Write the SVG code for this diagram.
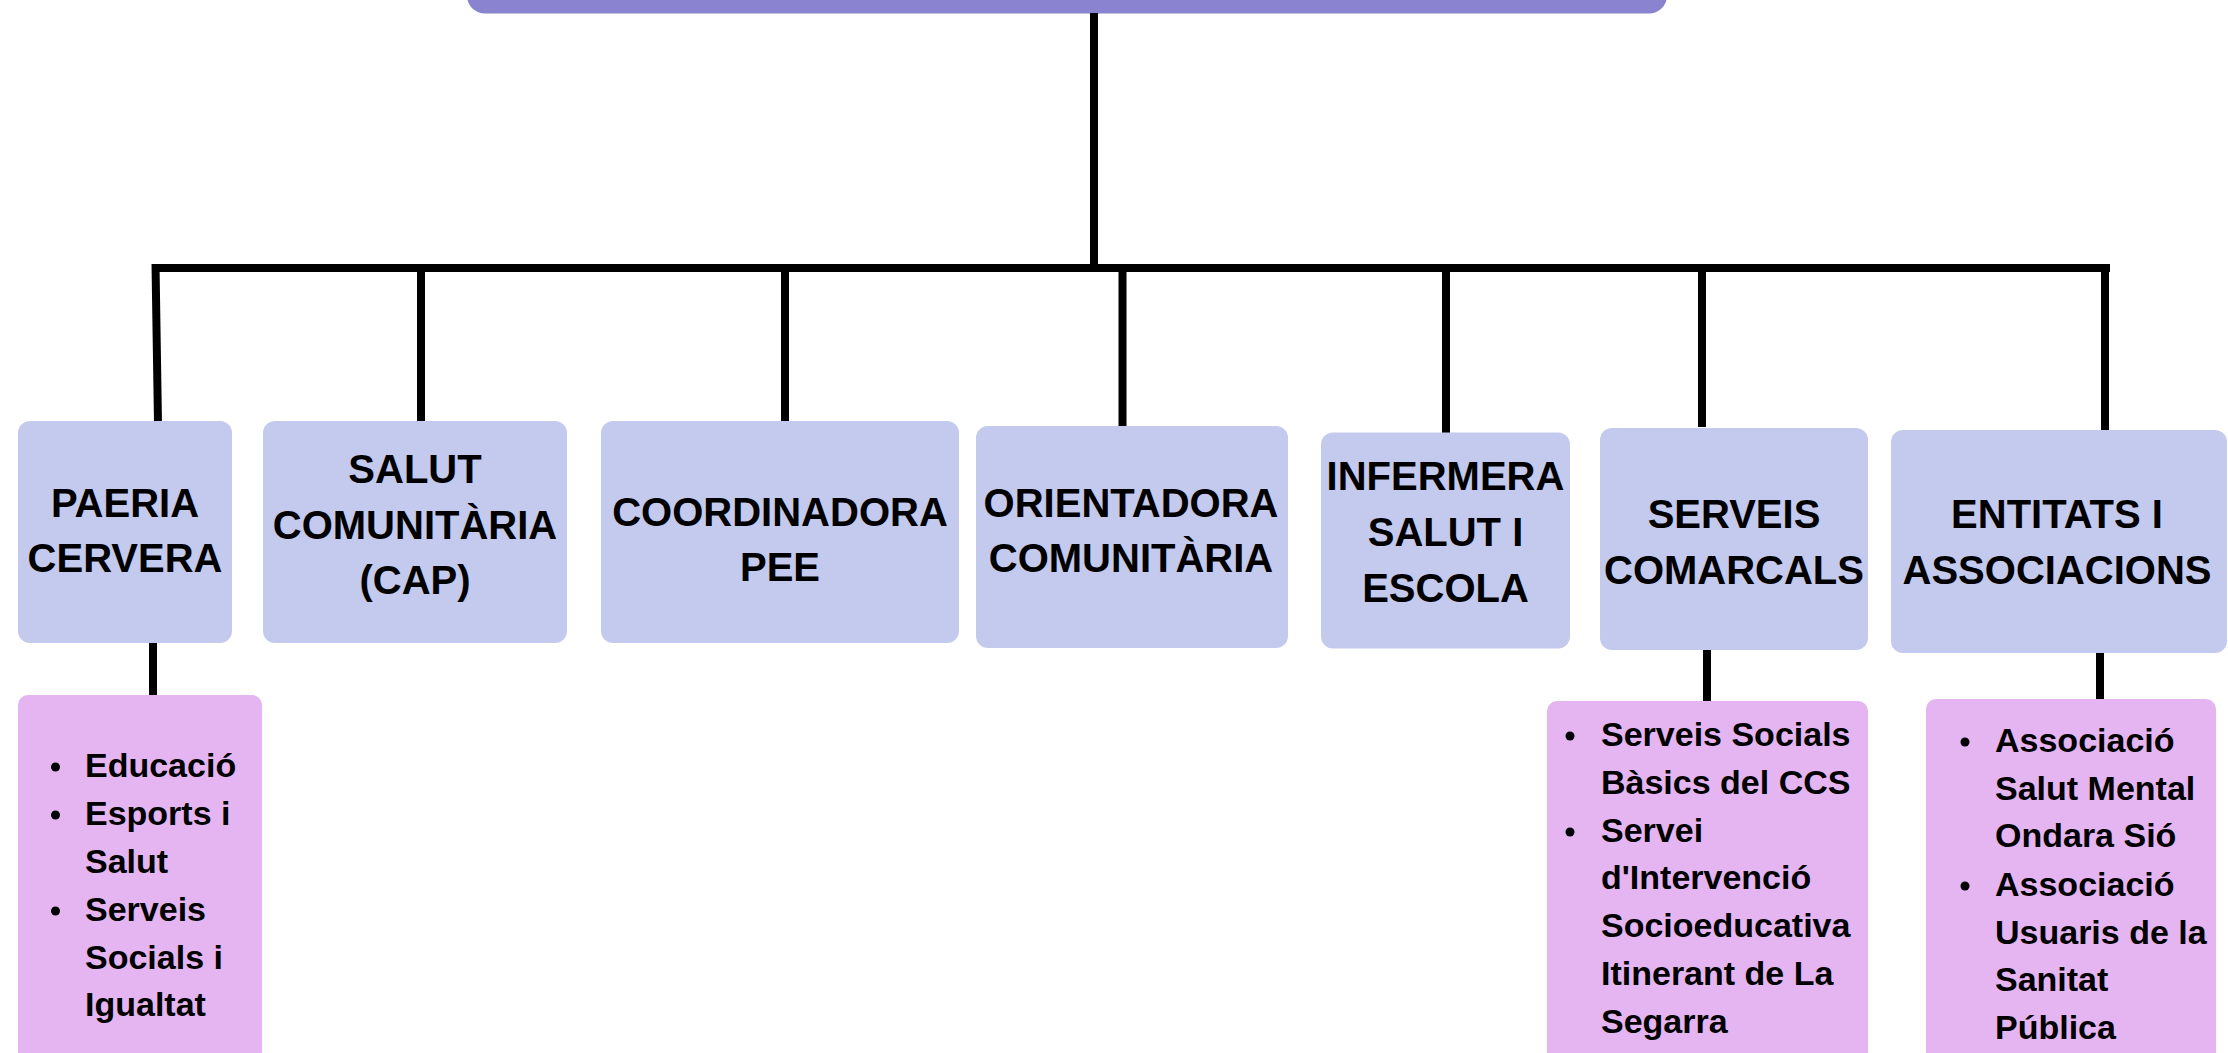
<svg xmlns="http://www.w3.org/2000/svg" width="2228" height="1053" viewBox="0 0 2228 1053">
<style>
.box{fill:#c3caee}
.sub{fill:#e4b5f1}
.top{fill:#8983d0}
.t{font-family:"Liberation Sans",Arial,sans-serif;font-weight:bold;font-size:40px;fill:#000;text-anchor:middle}
.l{font-family:"Liberation Sans",Arial,sans-serif;font-weight:bold;font-size:34px;fill:#000}
.c{stroke:#000;stroke-width:8;fill:none}
.bul{fill:#000}
</style>
<rect width="2228" height="1053" fill="#fff"/>
<g id="root"><rect class="top" x="467" y="-30" width="1200" height="43.5" rx="18"/></g>
<g id="connectors">
<line class="c" x1="1094" y1="13" x2="1094" y2="268"/>
<line class="c" x1="153" y1="268" x2="2110" y2="268" stroke-width="9"/>
<line class="c" x1="155.5" y1="264" x2="158" y2="424"/>
<line class="c" x1="421" y1="268" x2="421" y2="424"/>
<line class="c" x1="785" y1="268" x2="785" y2="427"/>
<line class="c" x1="1122.5" y1="268" x2="1122.5" y2="430"/>
<line class="c" x1="1446" y1="268" x2="1446" y2="434"/>
<line class="c" x1="1702" y1="268" x2="1702" y2="427"/>
<line class="c" x1="2105" y1="268" x2="2105" y2="432"/>
<line class="c" x1="153" y1="640" x2="153" y2="697"/>
<line class="c" x1="1707" y1="646" x2="1707" y2="703"/>
<line class="c" x1="2100" y1="648" x2="2100" y2="701"/>
</g>
<g id="paeria"><rect class="box" x="18" y="421" width="214" height="222" rx="12"/>
<text class="t" x="125" y="517">PAERIA</text><text class="t" x="125" y="572">CERVERA</text></g>
<g id="salut"><rect class="box" x="263" y="421" width="304" height="222" rx="12"/>
<text class="t" x="415" y="483">SALUT</text><text class="t" x="415" y="539">COMUNITÀRIA</text><text class="t" x="415" y="594">(CAP)</text></g>
<g id="coordinadora"><rect class="box" x="601" y="421" width="358" height="222" rx="12"/>
<text class="t" x="780" y="526">COORDINADORA</text><text class="t" x="780" y="581">PEE</text></g>
<g id="orientadora"><rect class="box" x="976" y="426" width="312" height="222" rx="12"/>
<text class="t" x="1131" y="517">ORIENTADORA</text><text class="t" x="1131" y="572">COMUNITÀRIA</text></g>
<g id="infermera"><rect class="box" x="1321" y="432.5" width="249" height="216" rx="12"/>
<text class="t" x="1445.5" y="490">INFERMERA</text><text class="t" x="1445.5" y="546">SALUT I</text><text class="t" x="1445.5" y="602">ESCOLA</text></g>
<g id="serveis"><rect class="box" x="1600" y="428" width="268" height="222" rx="12"/>
<text class="t" x="1734" y="528">SERVEIS</text><text class="t" x="1734" y="584">COMARCALS</text></g>
<g id="entitats"><rect class="box" x="1891" y="430" width="336" height="223" rx="12"/>
<text class="t" x="2057" y="528">ENTITATS I</text><text class="t" x="2057" y="584">ASSOCIACIONS</text></g>
<g id="paeria-list"><rect class="sub" x="18" y="695" width="244" height="380" rx="10"/>
<circle class="bul" cx="55.5" cy="767" r="4.5"/><circle class="bul" cx="55.5" cy="815" r="4.5"/><circle class="bul" cx="55.5" cy="911" r="4.5"/>
<text class="l" x="85" y="777">Educació</text><text class="l" x="85" y="825">Esports i</text><text class="l" x="85" y="873">Salut</text><text class="l" x="85" y="921">Serveis</text><text class="l" x="85" y="969">Socials i</text><text class="l" x="85" y="1016">Igualtat</text></g>
<g id="serveis-list"><rect class="sub" x="1547" y="701" width="321" height="380" rx="10"/>
<circle class="bul" cx="1570" cy="736" r="4.5"/><circle class="bul" cx="1570" cy="832" r="4.5"/>
<text class="l" x="1601" y="746">Serveis Socials</text><text class="l" x="1601" y="794">Bàsics del CCS</text><text class="l" x="1601" y="842">Servei</text><text class="l" x="1601" y="889">d'Intervenció</text><text class="l" x="1601" y="937">Socioeducativa</text><text class="l" x="1601" y="985">Itinerant de La</text><text class="l" x="1601" y="1033">Segarra</text></g>
<g id="entitats-list"><rect class="sub" x="1926" y="699" width="290" height="380" rx="10"/>
<circle class="bul" cx="1965" cy="742" r="4.5"/><circle class="bul" cx="1965" cy="886" r="4.5"/>
<text class="l" x="1995" y="752">Associació</text><text class="l" x="1995" y="800">Salut Mental</text><text class="l" x="1995" y="847">Ondara Sió</text><text class="l" x="1995" y="896">Associació</text><text class="l" x="1995" y="944">Usuaris de la</text><text class="l" x="1995" y="991">Sanitat</text><text class="l" x="1995" y="1039">Pública</text></g>
</svg>
